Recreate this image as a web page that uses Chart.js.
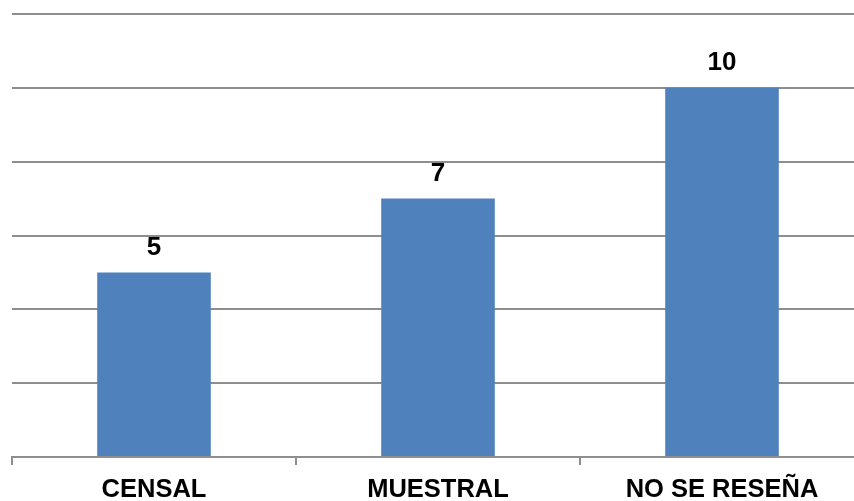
<!DOCTYPE html>
<html>
<head>
<meta charset="utf-8">
<script src="https://cdn.jsdelivr.net/npm/chart.js@4/dist/chart.umd.min.js"></script>
<style>
html,body{margin:0;padding:0;overflow:hidden;background:#fff;}
#wrap{position:relative;width:876px;height:501px;}
</style>
</head>
<body>
<div id="wrap"><canvas id="c"></canvas></div>
<script>
const categories = ["CENSAL", "MUESTRAL", "NO SE RESEÑA"];
const values = [5, 7, 10];
const yMin = 0, yMax = 12, yStep = 2;

const FONT = "'Liberation Sans', Arial, sans-serif";
const GRID = '#8e8e8e';

const valueLabels = {
  id: 'valueLabels',
  afterDatasetsDraw(chart) {
    const ctx = chart.ctx;
    const meta = chart.getDatasetMeta(0);
    ctx.save();
    ctx.font = 'bold 26px ' + FONT;
    ctx.fillStyle = '#000';
    ctx.textAlign = 'center';
    ctx.textBaseline = 'alphabetic';
    meta.data.forEach((bar, i) => {
      ctx.fillText(String(values[i]), bar.x, bar.y - 17.5);
    });
    ctx.restore();
  }
};

new Chart(document.getElementById('c'), {
  type: 'bar',
  data: {
    labels: categories,
    datasets: [{
      data: values,
      backgroundColor: '#4F81BD',
      borderWidth: 0,
      categoryPercentage: 1.0,
      barPercentage: 0.4
    }]
  },
  options: {
    responsive: true,
    maintainAspectRatio: false,
    animation: false,
    events: [],
    layout: { padding: { left: 12, right: 12, top: 14, bottom: 0 } },
    plugins: { legend: { display: false }, tooltip: { enabled: false } },
    scales: {
      x: {
        grid: { display: true, drawOnChartArea: false, drawTicks: true, tickLength: 8, color: GRID, lineWidth: 2, offset: true },
        border: { display: true, color: GRID, width: 2 },
        ticks: { color: '#000', font: { family: FONT, size: 25.5, weight: 'bold' }, padding: 10, maxRotation: 0, autoSkip: false },
        afterFit(s) { s.height = 44; }
      },
      y: {
        min: yMin, max: yMax,
        ticks: { display: false, stepSize: yStep },
        grid: { color: GRID, lineWidth: 2, drawTicks: false },
        border: { display: false },
        afterFit(s) { s.width = 0; }
      }
    }
  },
  plugins: [valueLabels]
});
</script>
</body>
</html>
